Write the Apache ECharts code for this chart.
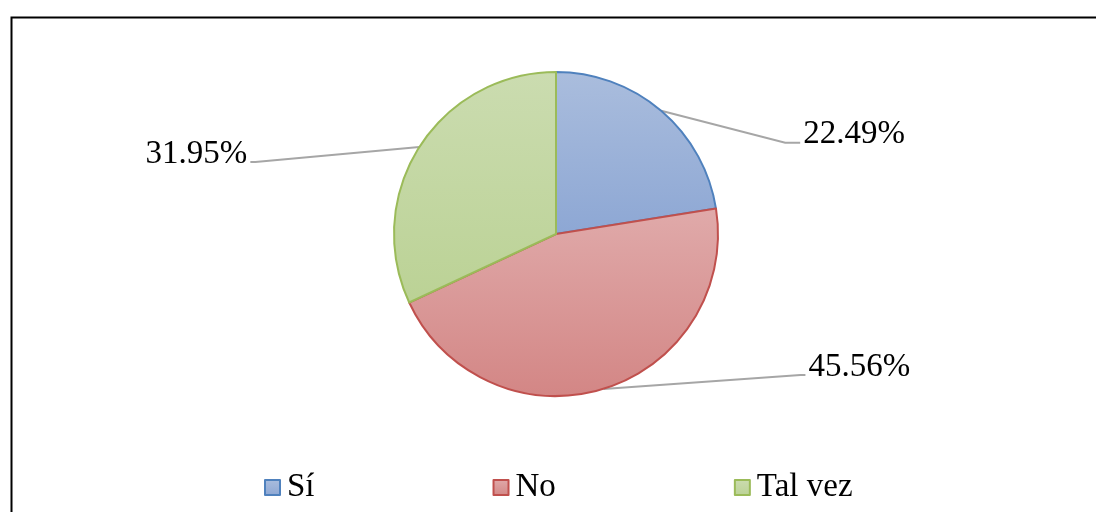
<!DOCTYPE html>
<html>
<head>
<meta charset="utf-8">
<script src="https://cdn.jsdelivr.net/npm/echarts@6/dist/echarts.min.js"></script>
<style>html,body{margin:0;padding:0;background:#fff}#c{width:1096px;height:512px}</style>
</head>
<body>
<div id="c"></div>
<script>
const categories = ['Sí', 'No', 'Tal vez'];
const values = [22.49, 45.56, 31.95];
const labelTexts = ['22.49%', '45.56%', '31.95%'];

const fills = [
  ['#AABDDD', '#8DA7D4'],
  ['#E0AAAA', '#D38685'],
  ['#CBDCB0', '#BBD295']
];
const borders = ['#4F81BD', '#C0504D', '#9BBB59'];
// label placement offsets relative to the slice edge point (end of leader line)
const leaderEnds = [[124, 32], [197, -14], [-164, 15]];
const leaderTails = [15, 5, -5];

const chart = echarts.init(document.getElementById('c'));
const font = '"Liberation Serif","Times New Roman",serif';

chart.setOption({
  animation: false,
  graphic: [{
    type: 'rect', left: 9, top: 15, z: -1,
    shape: { width: 1100, height: 510 },
    style: { fill: 'none', stroke: '#000', lineWidth: 2 }
  }],
  legend: {
    top: 466,
    left: 259,
    data: categories,
    itemWidth: 15, itemHeight: 15, itemGap: 178,
    icon: 'rect',
    textStyle: { fontFamily: font, fontSize: 33, color: '#000', padding: [0, 0, 0, 2] }
  },
  series: [{
    type: 'pie',
    center: [556, 234],
    radius: [0, 162],
    startAngle: 90,
    clockwise: true,
    data: categories.map((c, i) => ({
      name: c, value: values[i],
      itemStyle: {
        color: new echarts.graphic.LinearGradient(0, 0, 0, 1, [
          { offset: 0, color: fills[i][0] }, { offset: 1, color: fills[i][1] }
        ]),
        borderColor: borders[i], borderWidth: 2
      }
    })),
    label: {
      show: true,
      formatter: p => labelTexts[p.dataIndex],
      fontFamily: font, fontSize: 33, color: '#000'
    },
    labelLine: { show: true, lineStyle: { color: '#A6A6A6', width: 2 }, length: 10, length2: 10 },
    labelLayout: function (params) {
      const i = params.dataIndex;
      const p0 = params.labelLinePoints[0];
      const e = leaderEnds[i];
      const p1 = [p0[0] + e[0], p0[1] + e[1]];
      const p2 = [p1[0] + leaderTails[i], p1[1]];
      const right = leaderTails[i] > 0;
      return {
        x: p2[0] + (right ? 3 : -3),
        y: p1[1] - 8,
        align: right ? 'left' : 'right',
        verticalAlign: 'middle',
        labelLinePoints: [p0, p1, p2]
      };
    },
    emphasis: { disabled: true }
  }]
});
</script>
</body>
</html>
